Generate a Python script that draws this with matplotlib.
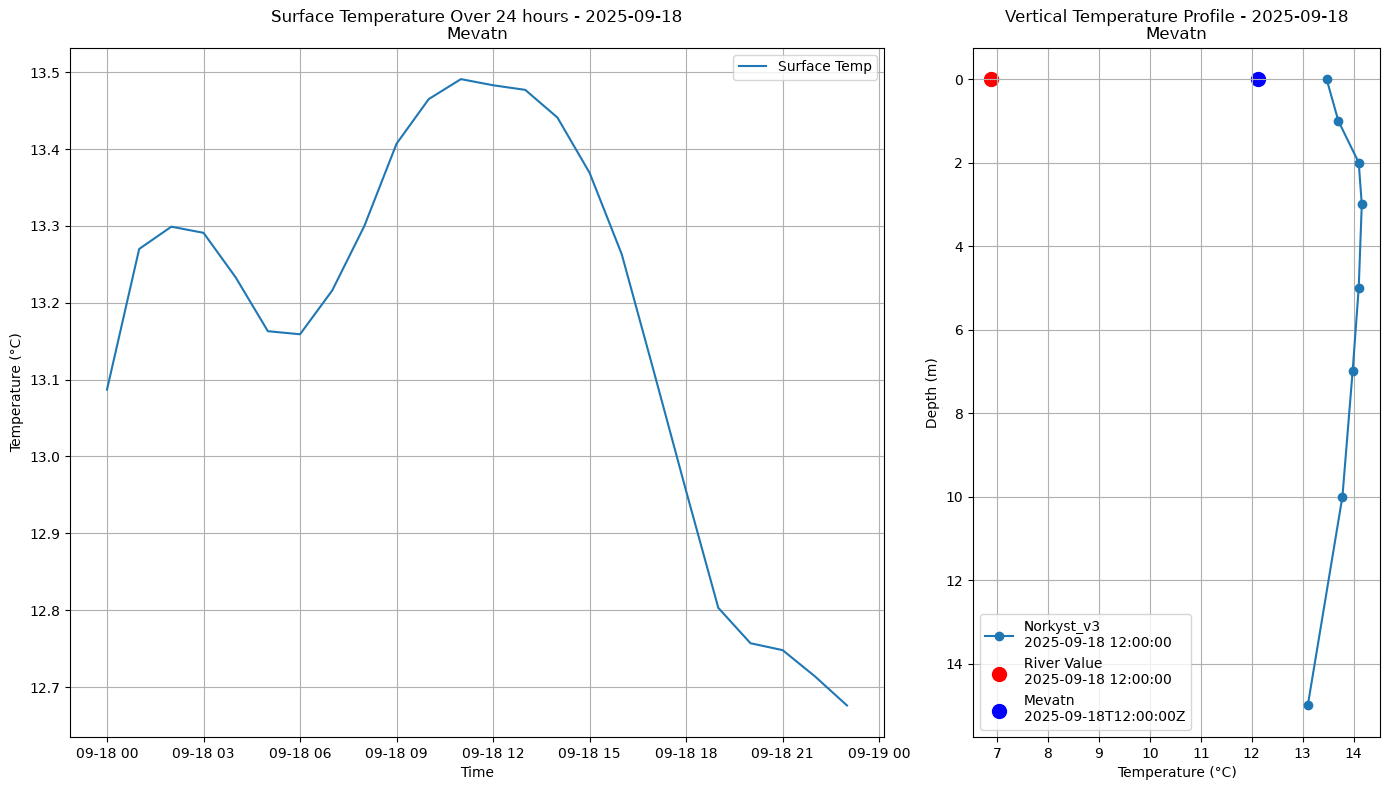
import matplotlib
matplotlib.use("Agg")
import matplotlib.pyplot as plt
import pandas as pd

surface_times = pd.date_range("2025-09-18 00:00", periods=24, freq="h")
surface_temps = [13.087, 13.270, 13.299, 13.291, 13.233, 13.163, 13.159, 13.216, 13.300, 13.407, 13.465, 13.491,
                 13.483, 13.477, 13.441, 13.369, 13.263, 13.110, 12.955, 12.803, 12.757, 12.748, 12.714, 12.676]
depths = [0, 1, 2, 3, 5, 7, 10, 15]
profile_temps = [13.47, 13.70, 14.10, 14.16, 14.10, 13.98, 13.78, 13.10]
river_temp = 6.89
mevatn_temp = 12.13
title_date = "2025-09-18"
lake = "Mevatn"

plt.rcParams["text.hinting"] = "no_autohint"

W, H = 1389, 790
fig = plt.figure(figsize=(W / 100, H / 100), dpi=100)
ax1 = fig.add_axes([70 / W, 1 - 736.8 / H, 814 / W, 689 / H])
ax2 = fig.add_axes([972.8 / W, 1 - 736.8 / H, 407.5 / W, 689 / H])

ax1.plot(surface_times, surface_temps, label="Surface Temp")
ax1.set_title(f"Surface Temperature Over 24 hours - {title_date}\n{lake}", linespacing=1.0)
ax1.set_xlabel("Time")
ax1.set_ylabel("Temperature (°C)")
ax1.grid(True)
ax1.legend()

ax2.plot(profile_temps, depths, marker="o", label="Norkyst_v3\n2025-09-18 12:00:00")
ax2.scatter([river_temp], [0], color="red", s=100, label="River Value\n2025-09-18 12:00:00")
ax2.scatter([mevatn_temp], [0], color="blue", s=100, label="Mevatn\n2025-09-18T12:00:00Z")
ax2.invert_yaxis()
ax2.set_title(f"Vertical Temperature Profile - {title_date}\n{lake}", linespacing=1.0)
ax2.set_xlabel("Temperature (°C)")
ax2.set_ylabel("Depth (m)")
ax2.grid(True)
ax2.legend(loc="lower left")

fig.savefig("out.png", dpi=100)
